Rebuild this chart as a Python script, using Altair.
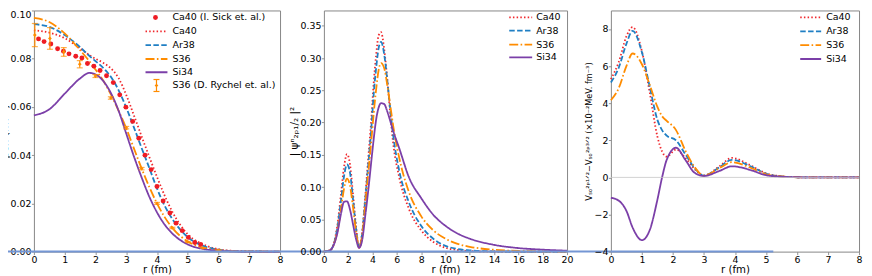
import altair as alt
import pandas as pd

SERIES = ["Ca40", "Ar38", "S36", "Si34"]
COLORS = ["#f0282d", "#1f7fc4", "#ff8c00", "#7b3fa8"]
DASHES = [[1.5, 2.2], [5.5, 2.4], [9, 2.4, 1.6, 2.4], [1, 0]]

# ---------- panel 1: charge density ----------
r1 = [0, 0.5, 1.0, 1.5, 1.8, 2.0, 2.25, 2.5, 2.75, 3.0, 3.25, 3.5, 3.75, 4.0, 4.25, 4.5, 5.0, 5.5, 6.0, 6.5, 7.0, 8.0]
rho_ca40 = [0.0918, 0.0908, 0.0885, 0.0843, 0.0815, 0.0800, 0.0783, 0.0760, 0.0720, 0.0650, 0.0565, 0.0478, 0.0393, 0.0310, 0.0232, 0.0165, 0.0072, 0.0030, 0.0010, 0.0003, 0.0001, 0.0]
rho_ar38 = [0.0943, 0.0932, 0.0898, 0.0848, 0.0812, 0.0790, 0.0762, 0.0725, 0.0670, 0.0598, 0.0515, 0.0430, 0.0347, 0.0262, 0.0190, 0.0135, 0.0060, 0.0024, 0.0008, 0.0002, 0.0001, 0.0]
rho_s36 = [0.0969, 0.0952, 0.0905, 0.0835, 0.0790, 0.0755, 0.0710, 0.0652, 0.0585, 0.0512, 0.0428, 0.0345, 0.0268, 0.0200, 0.0143, 0.0098, 0.0042, 0.0016, 0.0006, 0.0002, 0.0001, 0.0]
rho_si34 = [0.0565, 0.0590, 0.0655, 0.0718, 0.0741, 0.0735, 0.0708, 0.0658, 0.0585, 0.0490, 0.0395, 0.0308, 0.0228, 0.0163, 0.0112, 0.0075, 0.0030, 0.0011, 0.0004, 0.0001, 0.0, 0.0]

sick_r = [0.15, 0.33, 0.55, 0.77, 0.96, 1.14, 1.36, 1.56, 1.74, 1.95, 2.15, 2.36, 2.58, 2.79, 2.99, 3.21, 3.41, 3.61, 3.81, 4.0, 4.2, 4.42, 4.62, 4.82, 5.02, 5.23, 5.42]
sick_rho = [0.0882, 0.0871, 0.0861, 0.0841, 0.0831, 0.0820, 0.0810, 0.0803, 0.0780, 0.0769, 0.0751, 0.0729, 0.0701, 0.0650, 0.0599, 0.0540, 0.0470, 0.0400, 0.0340, 0.0270, 0.0210, 0.0160, 0.0118, 0.0087, 0.0059, 0.0038, 0.0030]

rychel_r = [0.03, 0.52, 0.97, 1.49, 2.0, 2.5, 3.0, 3.5, 4.0, 4.5, 5.0, 5.5, 6.0]
rychel_rho = [0.0898, 0.0884, 0.0828, 0.0777, 0.0728, 0.0637, 0.0514, 0.0344, 0.0200, 0.0098, 0.0040, 0.0015, 0.0005]
rychel_err = [0.0048, 0.0045, 0.0018, 0.0015, 0.0006, 0.0005, 0.0005, 0.0005, 0.0004, 0.0003, 0.0002, 0.0001, 0.0001]

# ---------- panel 2: |psi|^2 ----------
r2 = [0, 0.5, 0.8, 1.1, 1.4, 1.65, 1.9, 2.15, 2.4, 2.65, 2.9, 3.15, 3.4, 3.65, 3.9, 4.1, 4.3, 4.5, 4.7, 4.95, 5.2, 5.45, 5.7, 6.2, 7, 8, 9, 10, 11, 12, 14, 16, 18, 20]
psi_ca40 = [0, 0.002, 0.012, 0.040, 0.088, 0.130, 0.151, 0.135, 0.088, 0.038, 0.006, 0.030, 0.085, 0.145, 0.205, 0.262, 0.305, 0.335, 0.340, 0.315, 0.270, 0.215, 0.168, 0.115, 0.066, 0.033, 0.015, 0.006, 0.0025, 0.001, 0.0002, 0, 0, 0]
psi_ar38 = [0, 0.002, 0.011, 0.036, 0.078, 0.116, 0.135, 0.122, 0.080, 0.035, 0.006, 0.028, 0.080, 0.135, 0.190, 0.245, 0.285, 0.315, 0.325, 0.307, 0.268, 0.222, 0.180, 0.125, 0.076, 0.040, 0.020, 0.009, 0.004, 0.002, 0.0004, 0.0001, 0, 0]
psi_s36 = [0, 0.002, 0.010, 0.030, 0.065, 0.097, 0.113, 0.102, 0.068, 0.030, 0.006, 0.025, 0.072, 0.122, 0.172, 0.215, 0.252, 0.281, 0.292, 0.285, 0.260, 0.228, 0.195, 0.145, 0.092, 0.055, 0.033, 0.020, 0.012, 0.0075, 0.0028, 0.001, 0.0004, 0.0001]
psi_si34 = [0, 0.002, 0.010, 0.028, 0.058, 0.077, 0.078, 0.065, 0.042, 0.019, 0.006, 0.018, 0.055, 0.095, 0.140, 0.175, 0.205, 0.223, 0.230, 0.229, 0.218, 0.203, 0.187, 0.160, 0.115, 0.083, 0.057, 0.040, 0.028, 0.020, 0.0105, 0.0055, 0.003, 0.0015]

# ---------- panel 3: spin-orbit difference ----------
r3 = [0, 0.25, 0.5, 0.7, 1.0, 1.25, 1.5, 1.65, 1.8, 2.1, 2.4, 2.7, 3.0, 3.5, 3.9, 4.5, 5.0, 5.5, 6.0, 7.0, 8.0]
vso_ca40 = [5.3, 6.2, 7.6, 8.1, 6.8, 4.6, 2.2, 1.4, 1.12, 1.5, 1.05, 0.45, 0.1, 0.6, 1.05, 0.65, 0.22, 0.06, 0.01, 0, 0]
vso_ar38 = [5.12, 5.9, 7.2, 7.9, 6.75, 4.9, 3.1, 2.55, 2.25, 2.0, 1.25, 0.5, 0.1, 0.55, 0.95, 0.6, 0.2, 0.05, 0.01, 0, 0]
vso_s36 = [4.16, 4.8, 6.0, 6.68, 6.1, 5.0, 3.8, 3.3, 3.05, 2.55, 1.45, 0.55, 0.1, 0.5, 0.82, 0.52, 0.17, 0.05, 0.01, 0, 0]
vso_si34 = [-1.1, -1.25, -1.8, -2.7, -3.38, -2.85, -1.2, 0.0, 0.95, 1.6, 0.95, 0.25, 0.08, 0.35, 0.6, 0.4, 0.12, 0.04, 0.01, 0, 0]

W1, W2, W3 = 247, 244, 249
H = 242
FONT = "DejaVu Sans"
LEG_FS = 9.5
LW = 1.8
ONE = pd.DataFrame({"a": [0]})


def long_df(r, cols):
    rows = []
    for name, vals in zip(SERIES, cols):
        for rr, vv in zip(r, vals):
            rows.append({"r": rr, "v": vv, "series": name})
    return pd.DataFrame(rows)


def make_enc(xs, ys, xvals, yvals, yfmt, ytitle, ytitle_size=10.5, top_flush=None):
    ax = alt.Axis(values=xvals, format="d", title="r (fm)", labelPadding=0.5, titlePadding=1,
                  titleFontSize=10.2, tickSize=3)
    ykw = dict(values=yvals, format=yfmt, title=ytitle, titleFontSize=ytitle_size,
               tickSize=2.5, labelPadding=0.5)
    if top_flush is not None:
        ykw["labelBaseline"] = {"condition": {"test": "datum.value > %g" % top_flush, "value": "top"},
                                "value": "middle"}
    ay = alt.Axis(**ykw)

    def X(f):
        return alt.X(f, scale=xs, axis=ax)

    def Y(f):
        return alt.Y(f, scale=ys, axis=ay)
    return X, Y


def line_layer(df, X, Y):
    return alt.Chart(df).mark_line(strokeWidth=LW, interpolate="monotone").encode(
        x=X("r:Q"), y=Y("v:Q"),
        color=alt.Color("series:N", scale=alt.Scale(domain=SERIES, range=COLORS), legend=None),
        strokeDash=alt.StrokeDash("series:N", scale=alt.Scale(domain=SERIES, range=DASHES), legend=None),
    )


def legend_lines(x0, x1, xt, ys):
    layers = []
    for name, col, dash, yy in zip(SERIES, COLORS, DASHES, ys):
        layers.append(alt.Chart(ONE).mark_rule(color=col, strokeDash=dash, strokeWidth=LW).encode(
            x=alt.value(x0), x2=alt.value(x1), y=alt.value(yy)))
        layers.append(alt.Chart(ONE).mark_text(text=name, align="left", baseline="middle", font=FONT,
                                               fontSize=LEG_FS, color="black").encode(
            x=alt.value(xt), y=alt.value(yy)))
    return layers


def blue_line(x0, x1):
    return alt.Chart(ONE).mark_rule(color="#7496d4", strokeWidth=2).encode(
        x=alt.value(x0), x2=alt.value(x1), y=alt.value(H))


# panel 1
X1, Y1 = make_enc(alt.Scale(domain=[0, 8], nice=False, zero=False),
                  alt.Scale(domain=[0, 0.1], nice=False, zero=False),
                  list(range(9)), [0, 0.02, 0.04, 0.06, 0.08, 0.10], ".2f", "ρch (fm⁻³)",
                  top_flush=0.099)
df1 = long_df(r1, [rho_ca40, rho_ar38, rho_s36, rho_si34])
sick = pd.DataFrame({"r": sick_r, "v": sick_rho})
ry = pd.DataFrame({"r": rychel_r, "v": rychel_rho,
                   "lo": [a - b for a, b in zip(rychel_rho, rychel_err)],
                   "hi": [a + b for a, b in zip(rychel_rho, rychel_err)]})
OR = COLORS[2]
RED = "#ee1c24"
p1_layers = [
    line_layer(df1, X1, Y1),
    alt.Chart(sick).mark_point(filled=True, shape="circle", size=24, opacity=1, color=RED).encode(
        x=X1("r:Q"), y=Y1("v:Q")),
    alt.Chart(ry).mark_rule(color=OR, strokeWidth=1.2).encode(x=X1("r:Q"), y=Y1("lo:Q"), y2="hi:Q"),
    alt.Chart(ry).mark_tick(color=OR, orient="horizontal", size=6, thickness=1.2).encode(
        x=X1("r:Q"), y=Y1("lo:Q")),
    alt.Chart(ry).mark_tick(color=OR, orient="horizontal", size=6, thickness=1.2).encode(
        x=X1("r:Q"), y=Y1("hi:Q")),
    alt.Chart(ry).mark_point(filled=True, shape="diamond", size=14, opacity=1, color=OR).encode(
        x=X1("r:Q"), y=Y1("v:Q")),
    blue_line(-33, W1 + 44),
]
leg1_y = [7, 21, 34.7, 48.7, 62, 75.3]
p1_layers.append(alt.Chart(ONE).mark_point(filled=True, shape="circle", size=24, opacity=1, color=RED).encode(
    x=alt.value(122), y=alt.value(leg1_y[0])))
p1_layers.append(alt.Chart(ONE).mark_text(text="Ca40 (I. Sick et. al.)", align="left", baseline="middle",
                                          font=FONT, fontSize=LEG_FS, color="black").encode(
    x=alt.value(139), y=alt.value(leg1_y[0])))
p1_layers += legend_lines(112, 134, 139, leg1_y[1:5])
yy = leg1_y[5]
p1_layers.append(alt.Chart(ONE).mark_rule(color=OR, strokeWidth=1.2).encode(
    x=alt.value(123), y=alt.value(yy - 6), y2=alt.value(yy + 6)))
for dy in (-6, 6):
    p1_layers.append(alt.Chart(ONE).mark_rule(color=OR, strokeWidth=1.2).encode(
        x=alt.value(120), x2=alt.value(126), y=alt.value(yy + dy)))
p1_layers.append(alt.Chart(ONE).mark_point(filled=True, shape="diamond", size=14, opacity=1, color=OR).encode(
    x=alt.value(123), y=alt.value(yy)))
p1_layers.append(alt.Chart(ONE).mark_text(text="S36 (D. Rychel et. al.)", align="left", baseline="middle",
                                          font=FONT, fontSize=LEG_FS, color="black").encode(
    x=alt.value(139), y=alt.value(yy)))
p1 = alt.layer(*p1_layers).properties(width=W1, height=H)

# panel 2
X2, Y2 = make_enc(alt.Scale(domain=[0, 20], nice=False, zero=False),
                  alt.Scale(domain=[0, 0.3737], nice=False, zero=False),
                  list(range(0, 21, 2)), [0, 0.05, 0.10, 0.15, 0.20, 0.25, 0.30, 0.35], ".2f",
                  "| ψⁿ₂ₚ₁/₂ |²")
df2 = long_df(r2, [psi_ca40, psi_ar38, psi_s36, psi_si34])
p2_layers = [line_layer(df2, X2, Y2), blue_line(0, W2 + 44)]
p2_layers += legend_lines(186, 209, 213, [7, 20.3, 34.3, 47])
p2 = alt.layer(*p2_layers).properties(width=W2, height=H)

# panel 3
ys3 = alt.Scale(domain=[-4, 9], nice=False, zero=False)
X3, Y3 = make_enc(alt.Scale(domain=[0, 8], nice=False, zero=False), ys3,
                  list(range(9)), [-4, -2, 0, 2, 4, 6, 8], "d",
                  "Vₛₒ²ᵖ¹ᐟ²−Vₛₒ²ᵖ³ᐟ² (×10⁻²MeV. fm⁻³)", ytitle_size=8.2)
df3 = long_df(r3, [vso_ca40, vso_ar38, vso_s36, vso_si34])
p3_layers = [
    line_layer(df3, X3, Y3),
    alt.Chart(ONE).mark_rule(color="#c8c8c8", strokeWidth=0.8).encode(y=alt.datum(0, scale=ys3)),
    blue_line(0, 163),
]
p3_layers += legend_lines(190, 211, 216, [7, 21, 34.7, 48.7])
p3 = alt.layer(*p3_layers).properties(width=W3, height=H)

chart = alt.hconcat(p1, p2, p3, spacing=44, bounds="flush").properties(
    padding={"left": -10, "top": 0, "right": 0, "bottom": 0}
).configure_view(stroke="#888888", strokeWidth=1).configure_axis(
    domain=False, grid=False, tickColor="#888888", tickWidth=0.9,
    labelFont=FONT, labelFontSize=9.4, labelColor="black",
    titleFont=FONT, titleFontSize=10.5, titleFontWeight="normal", titleColor="black", titlePadding=1,
    labelFlush=False, labelOverlap=False,
)

chart.save("out.html", embed_options={"renderer": "svg", "actions": False})
